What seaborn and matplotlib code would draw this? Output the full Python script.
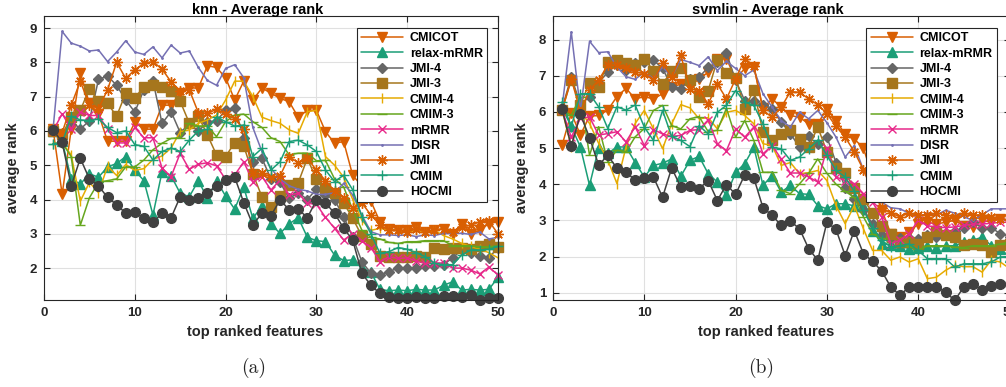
import numpy as np
import pandas as pd
import seaborn as sns
import matplotlib.pyplot as plt

features = list(range(1, 51))
methods = ['CMICOT', 'relax-mRMR', 'JMI-4', 'JMI-3', 'CMIM-4', 'CMIM-3',
           'mRMR', 'DISR', 'JMI', 'CMIM', 'HOCMI']

# ---- knn panel ----
knn_cmicot = [6.05, 4.15, 6.05, 7.7, 6.8, 6.5, 5.7, 5.7, 5.7, 6.25,
              6.05, 6.05, 6.75, 6.75, 7.1, 7.25, 7.25, 7.9, 7.85, 7.55,
              6.9, 7.45, 6.9, 7.25, 7.1, 6.95, 6.85, 6.4, 6.6, 6.6,
              5.98, 5.64, 5.69, 4.7, 4.4, 3.95, 3.35, 3.15, 3.1, 3.1,
              3.2, 3.05, 3.1, 3.15, 3.0, 3.3, 3.0, 3.1, 3.3, 3.35]
knn_relax = [6.0, 5.7, 4.6, 4.45, 4.75, 4.65, 4.95, 5.05, 5.25, 4.85,
             4.55, 3.55, 4.81, 4.69, 4.18, 4.08, 4.55, 4.03, 4.55, 4.1,
             3.72, 4.36, 3.45, 3.81, 3.29, 3.01, 3.29, 3.47, 2.9, 2.8,
             2.77, 2.38, 2.22, 2.24, 2.0, 1.88, 1.38, 1.34, 1.36, 1.34,
             1.38, 1.36, 1.36, 1.5, 1.6, 1.36, 1.38, 1.36, 1.38, 1.73]
knn_jmi4 = [6.0, 5.85, 6.3, 6.05, 6.3, 7.5, 7.6, 7.33, 6.9, 6.55,
            7.2, 7.46, 6.22, 6.56, 5.95, 6.2, 6.0, 6.25, 6.3, 6.6,
            6.68, 5.8, 5.1, 5.2, 4.6, 4.5, 4.03, 4.2, 4.0, 4.3,
            4.13, 3.99, 3.5, 2.9, 2.19, 1.85, 1.8, 1.9, 2.0, 2.0,
            2.0, 2.05, 2.05, 2.1, 2.3, 2.53, 2.45, 2.35, 2.3, 2.6]
knn_jmi3 = [6.0, 5.9, 6.4, 6.6, 7.23, 6.86, 6.8, 6.43, 7.1, 6.97,
            7.28, 7.34, 7.27, 7.17, 6.86, 6.23, 6.43, 5.88, 5.3, 5.25,
            5.66, 5.56, 4.75, 4.08, 3.79, 4.1, 4.42, 4.49, 5.2, 4.59,
            4.33, 4.2, 3.9, 3.45, 2.94, 2.7, 2.34, 2.31, 2.31, 2.31,
            2.36, 2.31, 2.6, 2.55, 2.58, 2.58, 2.55, 2.63, 2.7, 2.62]
knn_cmim4 = [5.63, 5.65, 5.3, 3.95, 4.5, 4.2, 4.97, 4.7, 5.02, 4.85,
             4.9, 5.17, 5.27, 5.5, 5.98, 6.03, 6.22, 6.32, 6.46, 6.9,
             7.45, 7.45, 7.0, 6.4, 6.3, 6.22, 6.03, 5.93, 6.56, 6.6,
             5.25, 5.0, 4.65, 4.0, 3.4, 3.1, 3.16, 3.1, 3.1, 3.05,
             3.1, 3.05, 3.1, 2.95, 2.85, 2.72, 2.63, 2.55, 2.45, 2.3]
knn_cmim3 = [5.63, 5.65, 5.25, 3.25, 4.05, 4.5, 4.55, 4.6, 4.95, 4.95,
             5.15, 5.45, 5.64, 5.78, 5.8, 6.22, 6.14, 6.15, 5.83, 6.27,
             6.46, 6.49, 6.27, 6.1, 5.8, 5.69, 5.3, 5.35, 5.35, 5.13,
             5.14, 4.6, 4.37, 3.7, 3.11, 2.9, 2.85, 2.75, 2.72, 2.77,
             2.77, 2.8, 2.8, 2.8, 2.65, 2.65, 2.65, 2.62, 2.62, 2.65]
knn_mrmr = [6.0, 6.5, 6.05, 6.55, 6.45, 6.45, 6.05, 5.65, 5.65, 6.1,
            5.8, 5.8, 4.91, 4.67, 5.35, 4.88, 5.03, 5.07, 4.98, 4.59,
            4.71, 5.1, 4.52, 4.67, 4.28, 4.57, 4.13, 4.18, 3.89, 3.86,
            3.48, 3.16, 2.82, 3.0, 2.8, 2.6, 2.19, 2.33, 2.28, 2.3,
            2.2, 2.14, 2.15, 2.15, 2.0, 2.0, 1.94, 1.83, 2.03, 1.8]
knn_disr = [6.05, 8.9, 8.56, 8.47, 8.33, 8.36, 8.02, 8.3, 8.63, 8.3,
            8.23, 8.45, 8.13, 8.5, 8.27, 8.33, 7.85, 7.47, 7.33, 7.82,
            7.93, 7.55, 6.1, 5.4, 4.9, 4.6, 4.4, 4.3, 4.25, 4.15,
            4.15, 4.2, 4.47, 4.13, 3.55, 3.06, 2.97, 2.97, 2.95, 2.97,
            2.92, 2.97, 2.95, 3.01, 3.0, 3.02, 2.98, 3.05, 2.85, 2.9]
knn_jmi = [6.0, 5.95, 6.75, 7.45, 6.75, 6.65, 7.2, 8.0, 7.53, 7.78,
           7.97, 8.02, 7.8, 7.43, 7.15, 7.2, 6.53, 6.51, 6.63, 6.5,
           6.35, 6.05, 4.76, 4.76, 4.65, 4.69, 5.25, 5.07, 5.2, 4.86,
           4.55, 4.25, 4.05, 3.75, 3.9, 3.55, 3.26, 3.1, 3.1, 3.05,
           3.15, 3.05, 3.1, 3.15, 3.05, 3.2, 3.25, 3.35, 3.37, 3.0]
knn_cmim = [5.63, 5.65, 6.43, 6.32, 6.3, 6.35, 6.1, 5.95, 6.0, 5.6,
            5.55, 5.15, 5.4, 5.5, 5.4, 5.73, 6.0, 6.05, 6.41, 6.27,
            6.14, 6.17, 5.25, 5.49, 4.86, 5.1, 5.69, 5.73, 5.59, 5.4,
            4.86, 4.52, 4.71, 4.28, 3.5, 3.0, 2.43, 2.48, 2.6, 2.55,
            2.45, 2.33, 2.14, 2.1, 2.1, 2.38, 2.53, 2.53, 2.55, 2.63]
knn_hocmi = [6.03, 5.67, 4.4, 5.2, 4.6, 4.4, 4.06, 3.85, 3.6, 3.63,
             3.45, 3.33, 3.6, 3.47, 4.08, 4.0, 4.03, 4.2, 4.39, 4.57,
             4.65, 3.91, 3.26, 3.6, 3.53, 3.99, 3.7, 3.72, 3.47, 3.98,
             3.9, 3.6, 3.16, 2.82, 1.85, 1.5, 1.26, 1.17, 1.14, 1.14,
             1.17, 1.14, 1.14, 1.2, 1.2, 1.17, 1.22, 1.08, 1.14, 1.14]

# ---- svmlin panel ----
svm_cmicot = [5.08, 5.97, 5.36, 5.88, 5.9, 6.05, 6.42, 6.65, 6.36, 6.42,
              6.36, 6.5, 6.68, 6.77, 6.73, 6.9, 7.1, 7.47, 7.47, 6.91,
              7.2, 7.25, 6.09, 6.36, 6.13, 5.9, 5.85, 5.67, 5.67, 6.09,
              5.75, 5.38, 5.25, 5.0, 4.2, 3.3, 2.63, 2.54, 2.68, 2.9,
              2.95, 2.9, 2.95, 3.0, 2.85, 2.82, 3.0, 2.95, 3.05, 3.0]
svm_relax = [6.1, 5.6, 5.03, 3.97, 5.0, 4.85, 5.03, 5.03, 4.6, 4.2,
             4.52, 4.58, 4.7, 4.22, 4.66, 4.77, 4.29, 4.06, 3.69, 4.33,
             4.57, 5.02, 3.97, 4.24, 3.78, 3.97, 3.74, 3.72, 3.41, 3.32,
             3.46, 3.46, 3.4, 3.41, 2.72, 2.36, 2.33, 2.3, 2.22, 2.25,
             2.3, 2.25, 2.3, 2.3, 2.4, 2.45, 2.54, 2.3, 2.2, 2.0]
svm_jmi4 = [6.1, 6.97, 6.2, 6.42, 6.8, 7.1, 7.3, 7.15, 7.34, 7.38,
            7.43, 7.2, 6.7, 6.64, 6.91, 6.96, 7.23, 7.37, 7.62, 6.87,
            6.31, 6.31, 6.2, 6.09, 5.72, 5.4, 5.02, 5.32, 5.1, 5.3,
            4.6, 3.9, 3.6, 3.3, 2.9, 2.6, 2.45, 2.5, 2.5, 2.49,
            2.6, 2.55, 2.65, 2.7, 2.8, 2.95, 2.8, 2.8, 2.63, 2.55]
svm_jmi3 = [6.05, 6.88, 6.2, 6.8, 6.7, 7.38, 7.43, 7.34, 7.3, 7.47,
            7.14, 6.77, 7.14, 7.22, 6.89, 6.41, 6.59, 7.44, 7.07, 6.95,
            6.09, 6.61, 5.44, 5.21, 5.39, 5.49, 5.26, 5.02, 5.58, 4.9,
            4.45, 4.3, 3.9, 3.6, 3.2, 2.85, 2.63, 2.4, 2.4, 2.36,
            2.55, 2.72, 2.6, 2.54, 2.31, 2.35, 2.31, 2.12, 2.31, 2.35]
svm_cmim4 = [6.05, 5.03, 6.0, 5.68, 5.13, 4.67, 4.02, 5.03, 5.68, 6.04,
             5.53, 4.98, 5.67, 6.2, 6.11, 5.81, 5.84, 5.53, 5.99, 6.04,
             5.9, 5.67, 5.12, 5.07, 4.52, 4.6, 4.29, 4.32, 4.38, 4.1,
             3.41, 2.91, 3.41, 2.77, 2.17, 2.17, 1.9, 1.99, 1.85, 1.94,
             1.39, 1.43, 1.62, 1.76, 1.72, 1.72, 1.57, 1.9, 1.85, 1.67]
svm_cmim3 = [6.05, 5.9, 6.42, 4.8, 5.59, 4.62, 4.94, 4.9, 5.31, 5.54,
             6.04, 6.18, 5.62, 5.53, 5.81, 5.87, 5.45, 5.49, 6.1, 5.3,
             5.76, 5.21, 4.33, 4.33, 3.83, 3.74, 4.01, 4.3, 4.7, 4.3,
             4.0, 3.8, 3.64, 3.1, 2.63, 2.5, 2.4, 2.4, 2.3, 2.17,
             2.3, 2.3, 2.3, 2.26, 2.25, 2.3, 2.3, 2.3, 2.35, 2.4]
svm_mrmr = [6.05, 5.3, 5.82, 5.86, 5.36, 5.4, 5.45, 5.17, 5.59, 5.07,
            5.51, 5.39, 5.32, 5.35, 5.49, 5.51, 5.78, 5.12, 4.93, 5.53,
            5.3, 5.58, 4.84, 5.07, 4.7, 4.31, 4.31, 4.2, 4.06, 5.0,
            4.2, 4.1, 4.01, 3.74, 3.5, 3.09, 2.36, 2.45, 2.63, 3.0,
            2.85, 2.82, 2.8, 2.82, 2.86, 2.9, 2.9, 2.92, 2.95, 2.95]
svm_disr = [6.14, 8.21, 6.05, 7.95, 7.64, 7.66, 7.24, 6.97, 6.9, 7.1,
            6.92, 7.24, 6.97, 7.45, 7.37, 7.28, 7.52, 7.14, 7.4, 7.2,
            7.0, 7.16, 6.5, 6.13, 5.76, 5.58, 5.99, 5.81, 6.04, 5.7,
            5.3, 4.75, 5.07, 4.4, 3.9, 3.5, 3.35, 3.32, 3.2, 3.09,
            3.2, 3.15, 3.28, 3.2, 3.1, 3.0, 3.15, 3.32, 3.32, 3.32]
svm_jmi = [6.05, 6.92, 6.0, 6.6, 6.88, 7.29, 7.29, 7.2, 7.1, 7.06,
           6.87, 7.35, 6.96, 7.56, 6.64, 6.59, 6.22, 6.77, 6.36, 6.91,
           7.47, 7.28, 6.04, 5.85, 6.13, 6.56, 6.54, 6.36, 6.2, 5.95,
           5.6, 5.3, 4.9, 4.4, 3.8, 3.35, 3.2, 3.1, 3.2, 3.15,
           3.15, 3.2, 3.15, 3.1, 3.2, 3.15, 3.15, 3.1, 3.05, 3.0]
svm_cmim = [6.28, 5.59, 6.5, 6.5, 6.14, 5.54, 6.14, 6.05, 6.19, 5.58,
            5.21, 6.04, 5.32, 5.21, 5.04, 5.62, 5.39, 5.99, 6.18, 6.59,
            6.27, 6.18, 5.67, 5.02, 4.98, 4.66, 4.75, 4.98, 5.21, 4.8,
            4.38, 4.2, 3.8, 3.28, 2.8, 2.45, 2.26, 2.3, 2.35, 2.17,
            1.94, 1.94, 1.94, 1.71, 1.8, 1.8, 1.8, 1.85, 1.99, 2.0]
svm_hocmi = [6.07, 5.05, 5.93, 5.29, 4.53, 4.8, 4.44, 4.34, 4.11, 4.18,
             4.2, 3.64, 4.45, 3.92, 3.95, 3.88, 4.1, 3.55, 3.99, 3.72,
             4.26, 4.17, 3.35, 3.14, 2.86, 2.98, 2.77, 2.22, 1.9, 2.95,
             2.75, 2.03, 2.72, 2.08, 1.87, 1.6, 1.16, 0.93, 1.16, 1.16,
             1.16, 1.16, 1.02, 0.79, 1.16, 1.25, 1.07, 1.2, 1.25, 1.25]

knn = dict(zip(methods, [knn_cmicot, knn_relax, knn_jmi4, knn_jmi3, knn_cmim4, knn_cmim3,
                         knn_mrmr, knn_disr, knn_jmi, knn_cmim, knn_hocmi]))
svm = dict(zip(methods, [svm_cmicot, svm_relax, svm_jmi4, svm_jmi3, svm_cmim4, svm_cmim3,
                         svm_mrmr, svm_disr, svm_jmi, svm_cmim, svm_hocmi]))

colors = {'CMICOT': '#D95F02', 'relax-mRMR': '#1B9E77', 'JMI-4': '#666666',
          'JMI-3': '#A6761D', 'CMIM-4': '#E6AB02', 'CMIM-3': '#66A61E',
          'mRMR': '#E7298A', 'DISR': '#7570B3', 'JMI': '#D95F02',
          'CMIM': '#1B9E77', 'HOCMI': '#404040'}
markers = {'CMICOT': 'v', 'relax-mRMR': '^', 'JMI-4': 'D', 'JMI-3': 's',
           'CMIM-4': '|', 'CMIM-3': '_', 'mRMR': 'x', 'DISR': '.',
           'JMI': (8, 2, 0), 'CMIM': '+', 'HOCMI': 'o'}
msizes = {'CMICOT': 7.5, 'relax-mRMR': 7, 'JMI-4': 5.5, 'JMI-3': 6.5,
          'CMIM-4': 7.5, 'CMIM-3': 7.5, 'mRMR': 5.5, 'DISR': 2,
          'JMI': 7.5, 'CMIM': 7.5, 'HOCMI': 7}

sns.set_theme(style='whitegrid')
plt.rcParams['font.family'] = ['Liberation Sans', 'DejaVu Sans']
plt.rcParams['font.weight'] = 'bold'
plt.rcParams['axes.labelweight'] = 'bold'
plt.rcParams['axes.titleweight'] = 'bold'

W, H = 1006, 387
fig = plt.figure(figsize=(W / 100, H / 100), dpi=100)
ax1 = fig.add_axes([44 / W, 87 / H, 454 / W, 284 / H])
ax2 = fig.add_axes([553 / W, 87 / H, 456.5 / W, 284 / H])

dark = '#262626'


def draw(ax, data, title, ylim, yticks, leg_x):
    for m in methods:
        sns.lineplot(x=features, y=data[m], ax=ax, color=colors[m],
                     marker=markers[m], markersize=msizes[m],
                     mec=colors[m], mew=1.0, linewidth=1.1,
                     label=m, clip_on=False)
    ax.set_xlim(0, 50)
    ax.set_ylim(*ylim)
    ax.set_xticks([0, 10, 20, 30, 40, 50])
    ax.set_yticks(yticks)
    ax.grid(True, color='#e0e0e0', linewidth=0.8)
    ax.set_axisbelow(True)
    for s in ax.spines.values():
        s.set_color(dark)
        s.set_linewidth(0.8)
    ax.tick_params(axis='both', direction='in', bottom=True, left=True,
                   top=True, right=True, length=4, width=0.8, color=dark,
                   labelsize=9.5, labelcolor=dark, pad=5)
    ax.set_title(title, fontsize=10.5, fontweight='bold', x=0.47, pad=1.5, color='black')
    ax.set_xlabel('top ranked features', fontsize=10.5, fontweight='bold', color=dark)
    ax.set_ylabel('average rank', fontsize=10.5, fontweight='bold', color=dark)
    ax.xaxis.set_label_coords(0.466, -0.088)
    ax.yaxis.set_label_coords(-0.052, 0.465)
    leg = ax.legend(loc='upper right', bbox_to_anchor=(leg_x, 0.958),
                    fontsize=9, frameon=True, fancybox=False,
                    edgecolor=dark, framealpha=1, handlelength=3.4,
                    labelspacing=0.27, borderpad=0.35, handletextpad=0.5,
                    borderaxespad=0)
    leg.get_frame().set_linewidth(0.8)
    for t in leg.get_texts():
        t.set_color('black')


draw(ax1, knn, 'knn - Average rank', (1.07, 9.35), [2, 3, 4, 5, 6, 7, 8, 9], 0.976)
draw(ax2, svm, 'svmlin - Average rank', (0.8, 8.65), [1, 2, 3, 4, 5, 6, 7, 8], 0.9726)

fig.text(254 / W, 1 - 368 / H, '(a)', fontsize=14, family='cmr10',
         fontweight='normal', ha='center', va='center')
fig.text(761 / W, 1 - 368 / H, '(b)', fontsize=14, family='cmr10',
         fontweight='normal', ha='center', va='center')

fig.savefig('out.png', dpi=100)
